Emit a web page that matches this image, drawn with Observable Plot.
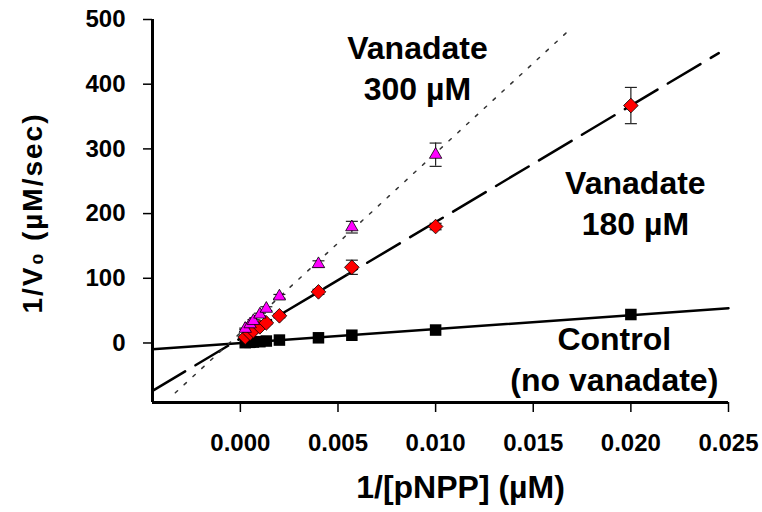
<!DOCTYPE html>
<html>
<head>
<meta charset="utf-8">
<script src="https://cdn.jsdelivr.net/npm/d3@7"></script>
<script src="https://cdn.jsdelivr.net/npm/@observablehq/plot@0.6"></script>
<style>
  html, body { margin: 0; padding: 0; background: white; }
</style>
</head>
<body>
<div id="chart"></div>
<script>
// 1/[pNPP] values (µM^-1)
const xInv = [0.00025, 0.0005, 0.000667, 0.001, 0.00133, 0.002, 0.004, 0.00571, 0.010, 0.020];
// 1/V0 values
const controlY = [0.5, 1, 1.5, 2, 3, 4.5, 8, 12, 20, 44];
const van180Y  = [9, 15, 19, 25, 31, 42, 79, 117, 180, 367];
const van180Err = [1, 1, 1, 2, 2, 3, 4, 11, 5, 28];
const van300Y  = [22, 29, 34, 44, 53, 72, 122, 179, 291, null];
const van300Err = [1, 2, 2, 2, 3, 3, 5, 9, 18, null];

// fitted lines (end points)
const fitControlX = [-0.0045, 0.025];
const fitControlY = [-9.8, 53.7];
const fit180X = [-0.0045, 0.0245];
const fit180Y = [-74, 448];
const fit300X = [-0.00333, 0.0170];
const fit300Y = [-77, 488];

// axes
const xTicks = [0, 0.005, 0.010, 0.015, 0.020, 0.025];
const yTicks = [0, 100, 200, 300, 400, 500];
const xDomain = [-0.0045, 0.025];
const yDomain = [-92, 500];
const xLabel = "1/[pNPP] (µM)";
const yLabel = "1/V\u2080 (µM/sec)";

// annotations
const annoText = ["Vanadate\n300 µM", "Vanadate\n180 µM", "Control\n(no vanadate)"];
const annoX = [0.00907, 0.02023, 0.01915];
const annoY = [428, 219, -22];

// build tables
const control = xInv.map((x, i) => ({x, y: controlY[i]}));
const v180 = xInv.map((x, i) => ({x, y: van180Y[i], e: van180Err[i]}));
const v300 = xInv.map((x, i) => ({x, y: van300Y[i], e: van300Err[i]})).filter(d => d.y != null);
const errs = [...v180, ...v300];
const caps = errs.flatMap(d => [{x: d.x, y: d.y + d.e}, {x: d.x, y: d.y - d.e}]);
const lineOf = (xs, ys) => xs.map((x, i) => ({x, y: ys[i]}));
const annos = annoText.map((t, i) => ({t, x: annoX[i], y: annoY[i]}));

const capSymbol = {draw(context) { context.moveTo(-6, 0); context.lineTo(6, 0); }};
const font = "Liberation Sans, Arial, Helvetica, sans-serif";

const chart = Plot.plot({
  width: 762,
  height: 512,
  marginLeft: 152,
  marginRight: 34,
  marginTop: 19,
  marginBottom: 110,
  style: {fontFamily: font, fontWeight: "bold", background: "white", color: "black"},
  x: {domain: xDomain},
  y: {domain: yDomain},
  marks: [
    Plot.axisY({ticks: yTicks, tickSize: 9, tickPadding: 18, fontSize: 24, fontWeight: "bold",
      label: null, tickFormat: d => String(d), strokeWidth: 1.5}),
    Plot.axisX({ticks: xTicks, tickSize: 10, tickPadding: 21, fontSize: 24, fontWeight: "bold",
      label: null, tickFormat: d3.format(".3f"), strokeWidth: 1.5}),
    Plot.ruleX([xDomain[0]], {strokeWidth: 3, stroke: "black"}),
    Plot.ruleY([yDomain[0]], {strokeWidth: 3, stroke: "black"}),
    Plot.line(lineOf(fitControlX, fitControlY), {x: "x", y: "y", stroke: "black", strokeWidth: 2.5}),
    Plot.line(lineOf(fit180X, fit180Y), {x: "x", y: "y", stroke: "black", strokeWidth: 2.5, strokeDasharray: "38,12"}),
    Plot.line(lineOf(fit300X, fit300Y), {x: "x", y: "y", stroke: "#333", strokeWidth: 1.5, strokeDasharray: "3,9"}),
    Plot.ruleX(errs, {x: "x", y1: d => d.y - d.e, y2: d => d.y + d.e, stroke: "#222", strokeWidth: 1.2}),
    Plot.dot(caps, {x: "x", y: "y", symbol: capSymbol, fill: "none", stroke: "#222", strokeWidth: 1.2}),
    Plot.dot(control, {x: "x", y: "y", symbol: "square", r: 6.5, fill: "black"}),
    Plot.dot(v180, {x: "x", y: "y", symbol: "diamond2", r: 6.6, fill: "#FF0000", stroke: "black", strokeWidth: 0.8}),
    Plot.dot(v300, {x: "x", y: "y", symbol: "triangle", r: 4.6, fill: "#FF00FF", stroke: "black", strokeWidth: 0.8}),
    Plot.text(annos, {x: "x", y: "y", text: "t", fontSize: 32, fontWeight: "bold", lineHeight: 1.3, fill: "black"}),
    Plot.text([xLabel], {frameAnchor: "bottom", textAnchor: "middle", lineAnchor: "middle", dy: 85, dx: 20,
      fontSize: 32, fontWeight: "bold", fill: "black"}),
    Plot.text([yLabel], {frameAnchor: "left", textAnchor: "middle", lineAnchor: "middle", rotate: -90,
      dx: -119.5, dy: 2, fontSize: 28, fontWeight: "bold", fill: "black"})
  ]
});
// slightly wider tracking on the y-axis title, as in the reference
d3.select(chart).selectAll("text").filter(function() { return this.textContent === yLabel; })
  .style("letter-spacing", "2px");
document.getElementById("chart").appendChild(chart);
</script>
</body>
</html>
